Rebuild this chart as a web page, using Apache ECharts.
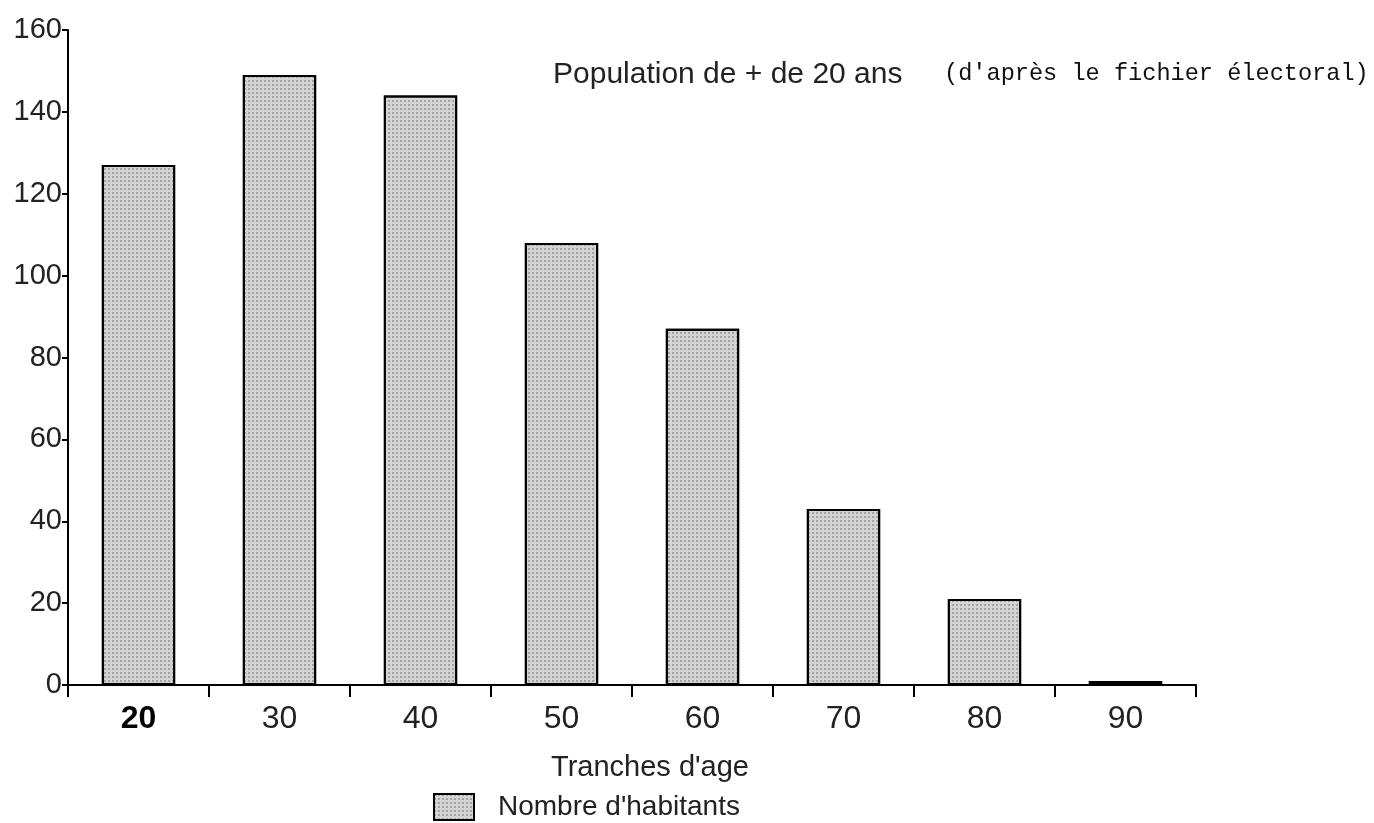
<!DOCTYPE html>
<html>
<head>
<meta charset="utf-8">
<script src="https://cdn.jsdelivr.net/npm/echarts@6/dist/echarts.min.js"></script>
<style>html,body{margin:0;padding:0;background:#fff;}#c{width:1374px;height:823px;}</style>
</head>
<body>
<div id="c"></div>
<script>
const categories = ['20', '30', '40', '50', '60', '70', '80', '90'];
const habitants = [127, 149, 144, 108, 87, 43, 21, 1];
const yTicks = [0, 20, 40, 60, 80, 100, 120, 140, 160];
const seriesName = "Nombre d'habitants";
const axisName = "Tranches d'age";
const title1 = 'Population de + de 20 ans';
const title2 = "(d'après le fichier électoral)";

const chart = echarts.init(document.getElementById('c'));
chart.setOption({
  animation: false,
  backgroundColor: '#fff',
  grid: {left: 68, right: 178, top: 30, bottom: 138, containLabel: false},
  graphic: [
    {type: 'text', left: 553, top: 60, style: {text: title1, font: '30px "Liberation Sans", sans-serif', fill: '#222'}},
    {type: 'text', left: 944, top: 62, style: {text: title2, font: '23.6px "Liberation Mono", "DejaVu Sans Mono", monospace', fill: '#111'}}
  ],
  legend: {
    left: 428, top: 788, itemWidth: 40, itemHeight: 26, icon: 'rect',
    data: [seriesName],
    textStyle: {fontFamily: '"Liberation Sans", sans-serif', fontSize: 28, color: '#222', padding: [0, 0, 0, 19]}
  },
  xAxis: {
    type: 'category', data: categories,
    name: axisName, nameLocation: 'middle', nameGap: 68,
    nameTextStyle: {fontFamily: '"Liberation Sans", sans-serif', fontSize: 29, color: '#222', padding: [0, 0, 0, 36]},
    axisLine: {lineStyle: {color: '#000', width: 2}},
    axisTick: {show: true, length: 12, lineStyle: {color: '#000', width: 2}},
    axisLabel: {
      margin: 18, fontFamily: '"Liberation Sans", sans-serif', fontSize: 32, color: '#222',
      formatter: function (v, i) { return i === 0 ? '{b|' + v + '}' : v; },
      rich: {b: {fontWeight: 'bold', fontSize: 32, fontFamily: '"Liberation Sans", sans-serif', color: '#000'}}
    }
  },
  yAxis: {
    type: 'value', min: 0, max: 160, interval: 20,
    axisLine: {show: true, lineStyle: {color: '#000', width: 2}},
    axisTick: {show: true, length: 6, lineStyle: {color: '#000', width: 2}},
    splitLine: {show: false},
    axisLabel: {
      margin: 6, fontFamily: '"Liberation Sans", sans-serif', fontSize: 29, color: '#222',
      formatter: function (v) { return yTicks.indexOf(v) >= 0 ? String(v) : ''; }
    }
  },
  series: [{
    name: seriesName, type: 'bar', data: habitants,
    barCategoryGap: '48%',
    itemStyle: {
      color: '#d4d4d4', borderColor: '#000', borderWidth: 2,
      decal: {symbol: 'circle', symbolSize: 0.8, dashArrayX: [2, 2], dashArrayY: [2, 2], color: '#666'}
    }
  }]
});
</script>
</body>
</html>
